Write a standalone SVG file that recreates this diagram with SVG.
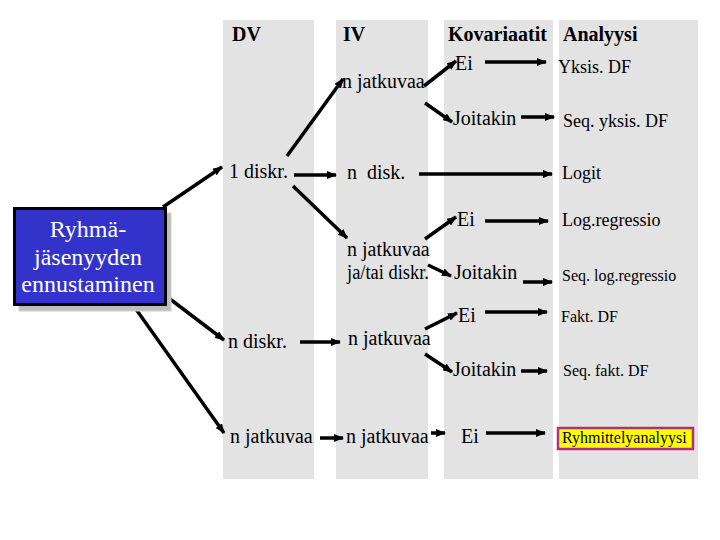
<svg xmlns="http://www.w3.org/2000/svg" width="720" height="540" viewBox="0 0 720 540" font-family="Liberation Serif, DejaVu Serif, serif">
<style>
.col{fill:#e3e3e3}
.t{font-size:20px;fill:#000;white-space:pre}
.h{font-weight:bold}
.s18{font-size:18px}
.s16{font-size:16px}
.w{fill:#fff;font-size:24px;text-anchor:middle}
.a{stroke:#000;stroke-width:3.5;fill:none;marker-end:url(#ah)}
</style>
<defs>
<marker id="ah" viewBox="0 0 10 8" refX="9" refY="4" markerWidth="10" markerHeight="8" markerUnits="userSpaceOnUse" orient="auto">
<path d="M0,0 L10,4 L0,8 Z" fill="#000"/>
</marker>
</defs>
<rect width="720" height="540" fill="#fff"/>
<g id="columns">
<rect class="col" x="223" y="20" width="91" height="459"/>
<rect class="col" x="336" y="20" width="92" height="459"/>
<rect class="col" x="444" y="20" width="109" height="459"/>
<rect class="col" x="559" y="20" width="139" height="459"/>
</g>
<g id="headers">
<text class="t h" x="232" y="41">DV</text>
<text class="t h" x="343" y="41">IV</text>
<text class="t h" x="448" y="41">Kovariaatit</text>
<text class="t h" x="563" y="41">Analyysi</text>
</g>
<g id="connectors">
<line class="a" x1="163" y1="207" x2="222" y2="167"/>
<line class="a" x1="166" y1="296" x2="224" y2="340"/>
<line class="a" x1="133" y1="305" x2="224" y2="433"/>
<line class="a" x1="287" y1="156" x2="343" y2="79"/>
<line class="a" x1="294" y1="175" x2="336" y2="175"/>
<line class="a" x1="293" y1="186" x2="347" y2="238"/>
<line class="a" x1="424" y1="86" x2="456" y2="61"/>
<line class="a" x1="425" y1="103" x2="452" y2="122"/>
<line class="a" x1="485" y1="62" x2="546" y2="62"/>
<line class="a" x1="521" y1="117" x2="554" y2="117"/>
<line class="a" x1="419" y1="174" x2="552" y2="174"/>
<line class="a" x1="425" y1="239" x2="456" y2="217"/>
<line class="a" x1="485" y1="221" x2="548" y2="221"/>
<line class="a" x1="428" y1="265" x2="451" y2="276"/>
<line class="a" x1="523" y1="282" x2="552" y2="282"/>
<line class="a" x1="300" y1="342" x2="340" y2="342"/>
<line class="a" x1="425" y1="329" x2="457" y2="313"/>
<line class="a" x1="485" y1="312" x2="547" y2="312"/>
<line class="a" x1="425" y1="354" x2="452" y2="372"/>
<line class="a" x1="521" y1="371" x2="547" y2="371"/>
<line class="a" x1="320" y1="438" x2="343" y2="438"/>
<line class="a" x1="431" y1="433" x2="445" y2="433"/>
<line class="a" x1="486" y1="433" x2="545" y2="433"/>
</g>
<g id="root">
<rect x="19" y="213" width="152" height="98" fill="#bdbdbd" stroke="#d0d0d0" stroke-width="1"/>
<rect x="14.5" y="208.5" width="151" height="96" fill="#3333cc" stroke="#000" stroke-width="3"/>
<text class="t w" x="88" y="237">Ryhmä-</text>
<text class="t w" x="88" y="264.5">jäsenyyden</text>
<text class="t w" x="88" y="292">ennustaminen</text>
</g>
<g id="dv">
<text class="t" x="229" y="178">1 diskr.</text>
<text class="t" x="228" y="348">n diskr.</text>
<text class="t" x="230" y="443">n jatkuvaa</text>
</g>
<g id="iv">
<text class="t" x="342" y="88">n jatkuvaa</text>
<text class="t" x="347" y="179">n  disk.</text>
<text class="t" x="347" y="256">n jatkuvaa</text>
<text class="t" x="347" y="279" textLength="82" lengthAdjust="spacingAndGlyphs">ja/tai diskr.</text>
<text class="t" x="348" y="345">n jatkuvaa</text>
<text class="t" x="346" y="443">n jatkuvaa</text>
</g>
<g id="kov">
<text class="t" x="455" y="70">Ei</text>
<text class="t" x="453" y="125">Joitakin</text>
<text class="t" x="457" y="226">Ei</text>
<text class="t" x="454" y="279">Joitakin</text>
<text class="t" x="458" y="322">Ei</text>
<text class="t" x="453" y="376">Joitakin</text>
<text class="t" x="461" y="443">Ei</text>
</g>
<g id="analyysi">
<text class="t s18" x="558" y="73">Yksis. DF</text>
<text class="t s18" x="563" y="127">Seq. yksis. DF</text>
<text class="t s18" x="562" y="179">Logit</text>
<text class="t s18" x="562" y="226">Log.regressio</text>
<text class="t s16" x="562" y="281">Seq. log.regressio</text>
<text class="t s16" x="561" y="322">Fakt. DF</text>
<text class="t s16" x="563" y="376">Seq. fakt. DF</text>
<rect x="558" y="428" width="135" height="21" fill="#ffff00" stroke="#b0307a" stroke-width="2.5"/>
<text class="t s16" x="562" y="443">Ryhmittelyanalyysi</text>
</g>
</svg>
